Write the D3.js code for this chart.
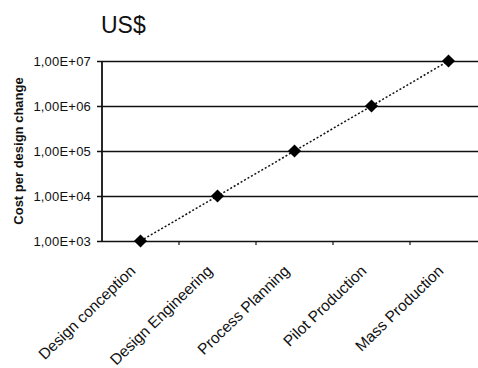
<!DOCTYPE html>
<html>
<head>
<meta charset="utf-8">
<script src="https://cdn.jsdelivr.net/npm/d3@7"></script>
<style>
  body { margin: 0; background: #fff; }
  svg text { font-family: Arial, "Liberation Sans", sans-serif; fill: #111; }
</style>
</head>
<body>
<svg width="478" height="368"></svg>
<script>
// stages along the x axis and cost per change (US$)
const categories = ['Design conception', 'Design Engineering', 'Process Planning', 'Pilot Production', 'Mass Production'];
const costs = [1e3, 1e4, 1e5, 1e6, 1e7];
const yTicks = [1e3, 1e4, 1e5, 1e6, 1e7];
const yTitle = 'Cost per design change';
const chartTitle = 'US$';

const svg = d3.select('svg');
const plotLeft = 102, plotTop = 61, plotBottom = 241, plotRight = 487;

const x = d3.scaleBand().domain(categories).range([plotLeft, plotRight]);
const y = d3.scaleLog().domain([1e3, 1e7]).range([plotBottom, plotTop]);

function fmt(d) {
  return '1,00E+' + String(Math.round(Math.log10(d))).padStart(2, '0');
}

// title
svg.append('text')
  .attr('x', 101).attr('y', 33)
  .style('font-size', '23px')
  .text(chartTitle);

// horizontal gridlines + y axis
const yAxis = d3.axisLeft(y).tickValues(yTicks).tickFormat(fmt).tickSize(-(478 - plotLeft));
const gy = svg.append('g').attr('transform', 'translate(' + plotLeft + ',0)').call(yAxis);
gy.select('.domain').remove();
gy.selectAll('.tick line').attr('x1', -5).attr('stroke', '#111').attr('stroke-width', 1.6);
gy.selectAll('.tick text')
  .attr('x', -11).attr('dy', '0.35em')
  .style('font-size', '13px')
  .style('letter-spacing', '0.2px')
  .style('font-family', 'Arial, "Liberation Sans", sans-serif')
  .attr('fill', '#111');

svg.append('line')
  .attr('x1', plotLeft).attr('x2', plotLeft)
  .attr('y1', plotTop).attr('y2', plotBottom)
  .attr('stroke', '#111').attr('stroke-width', 1.8);

// x axis ticks at band borders
const borders = categories.slice(1).map(c => x(c));
svg.append('g').selectAll('line')
  .data(borders)
  .enter().append('line')
  .attr('x1', d => d).attr('x2', d => d)
  .attr('y1', plotBottom).attr('y2', plotBottom + 4)
  .attr('stroke', '#111').attr('stroke-width', 1.2);

// x labels
svg.append('g').selectAll('text')
  .data(categories)
  .enter().append('text')
  .attr('text-anchor', 'end')
  .attr('transform', d => 'translate(' + (x(d) + x.bandwidth() / 2 - 4) + ',' + (plotBottom + 31) + ') rotate(-44)')
  .style('font-size', '15.5px')
  .text(d => d);

// y title
svg.append('text')
  .attr('transform', 'translate(23,151) rotate(-90)')
  .attr('text-anchor', 'middle')
  .style('font-size', '13px')
  .style('font-weight', 'bold')
  .text(yTitle);

// dotted line
const line = d3.line()
  .x((d, i) => x(categories[i]) + x.bandwidth() / 2)
  .y(d => y(d));
svg.append('path')
  .datum(costs)
  .attr('d', line)
  .attr('fill', 'none')
  .attr('stroke', '#111')
  .attr('stroke-width', 1.5)
  .attr('stroke-dasharray', '2,2');

// diamond markers
svg.append('g').selectAll('path')
  .data(costs)
  .enter().append('path')
  .attr('d', d3.symbol().type(d3.symbolDiamond2).size(110))
  .attr('transform', (d, i) => 'translate(' + (x(categories[i]) + x.bandwidth() / 2) + ',' + y(d) + ')')
  .attr('fill', '#000');
</script>
</body>
</html>
